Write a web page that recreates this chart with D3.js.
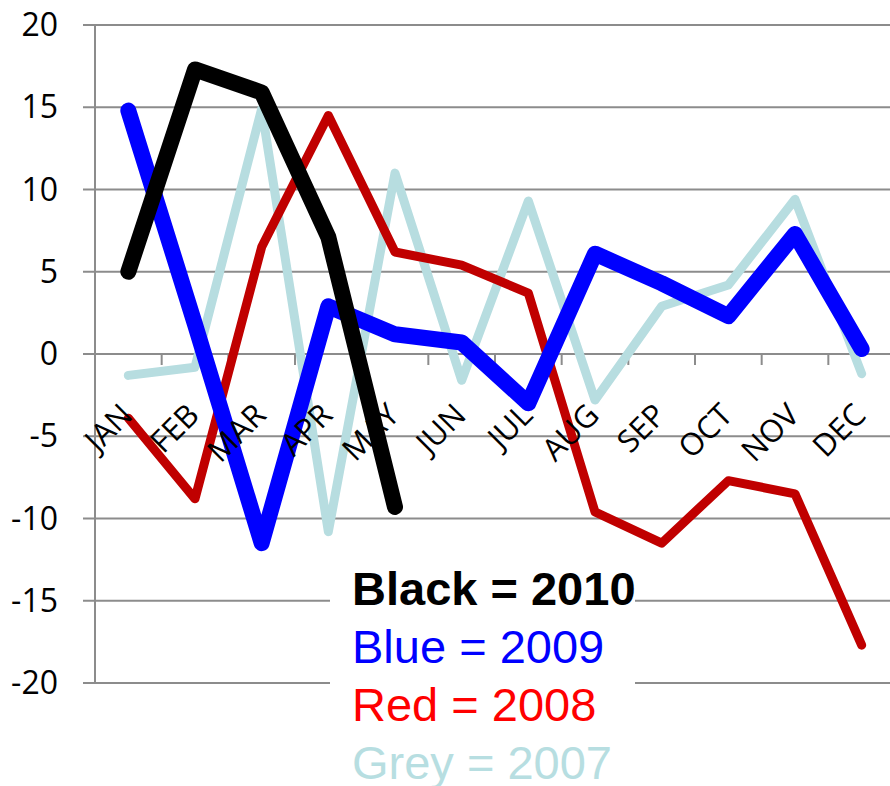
<!DOCTYPE html>
<html>
<head>
<meta charset="utf-8">
<script src="https://cdn.jsdelivr.net/npm/d3@7"></script>
<style>
  html, body { margin: 0; padding: 0; background: #fff; }
  svg { display: block; }
</style>
</head>
<body>
<svg id="chart" width="890" height="786"></svg>
<script>
const months = ["JAN","FEB","MAR","APR","MAY","JUN","JUL","AUG","SEP","OCT","NOV","DEC"];
const yTicks = [-20, -15, -10, -5, 0, 5, 10, 15, 20];

const values2010 = [5.0, 17.3, 15.9, 7.1, -9.3];
const values2009 = [14.8, 1.8, -11.5, 2.9, 1.2, 0.7, -3.0, 6.1, 4.3, 2.3, 7.3, 0.3];
const values2008 = [-3.9, -8.8, 6.5, 14.5, 6.2, 5.4, 3.7, -9.6, -11.5, -7.7, -8.5, -17.7];
const values2007 = [-1.3, -0.8, 14.9, -10.8, 11.0, -1.6, 9.3, -2.8, 2.9, 4.2, 9.4, -1.2];

const legendLines = [
  { text: "Black = 2010", color: "#000000", bold: true },
  { text: "Blue = 2009", color: "#0000ff", bold: false },
  { text: "Red = 2008", color: "#ff0000", bold: false },
  { text: "Grey = 2007", color: "#b7dee1", bold: false }
];

const series = [
  { name: "2007", values: values2007, color: "#b7dde0", width: 9 },
  { name: "2008", values: values2008, color: "#c00000", width: 9 },
  { name: "2009", values: values2009, color: "#0000ff", width: 16 },
  { name: "2010", values: values2010, color: "#000000", width: 16 }
];

const svg = d3.select("#chart");
const plotLeft = 95, plotRight = 895, plotTop = 25, plotBottom = 683;

const x = d3.scaleBand().domain(months).range([plotLeft, plotRight]).padding(0);
const y = d3.scaleLinear().domain([-20, 20]).range([plotBottom, plotTop]);

const gridColor = "#8c8c8c";
const font = "'Open Sans', sans-serif";

// gridlines
svg.append("g").selectAll("line").data(yTicks).join("line")
  .attr("x1", plotLeft - 12).attr("x2", 890)
  .attr("y1", d => y(d)).attr("y2", d => y(d))
  .attr("stroke", gridColor).attr("stroke-width", 2);

// y axis line
svg.append("line")
  .attr("x1", plotLeft).attr("x2", plotLeft)
  .attr("y1", y(20)).attr("y2", y(-20))
  .attr("stroke", gridColor).attr("stroke-width", 2);

// y labels
svg.append("g").selectAll("text").data(yTicks).join("text")
  .attr("x", 58).attr("y", d => y(d) + 11)
  .attr("text-anchor", "end")
  .attr("font-family", font).attr("font-size", 32)
  .attr("fill", "#000")
  .text(d => d);

// x axis tick marks at category boundaries
const bounds = months.map(m => x(m)).concat([x(months[months.length - 1]) + x.bandwidth()]);
svg.append("g").selectAll("line").data(bounds).join("line")
  .attr("x1", d => d).attr("x2", d => d)
  .attr("y1", y(0)).attr("y2", y(0) + 11)
  .attr("stroke", gridColor).attr("stroke-width", 2);

// series lines
const line = d3.line()
  .x((d, i) => x(months[i]) + x.bandwidth() / 2)
  .y(d => y(d));

svg.append("g").selectAll("path").data(series).join("path")
  .attr("d", d => line(d.values))
  .attr("fill", "none")
  .attr("stroke", d => d.color)
  .attr("stroke-width", d => d.width)
  .attr("stroke-linecap", "round")
  .attr("stroke-linejoin", "round");

// month labels
svg.append("g").selectAll("text").data(months).join("text")
  .attr("transform", m => `translate(${x(m) + x.bandwidth() / 2 + 6},${y(0) + 63}) rotate(-45)`)
  .attr("text-anchor", "end")
  .attr("font-family", font).attr("font-size", 31)
  .attr("fill", "#000")
  .text(m => m);

// legend box
svg.append("rect")
  .attr("x", 330).attr("y", 560).attr("width", 305).attr("height", 226)
  .attr("fill", "#fff");

svg.append("g").selectAll("text").data(legendLines).join("text")
  .attr("x", 352).attr("y", (d, i) => 605 + i * 58)
  .attr("font-family", "'Liberation Sans', Arial, sans-serif")
  .attr("font-size", 47)
  .attr("font-weight", d => d.bold ? "bold" : "normal")
  .attr("fill", d => d.color)
  .text(d => d.text);
</script>
</body>
</html>
